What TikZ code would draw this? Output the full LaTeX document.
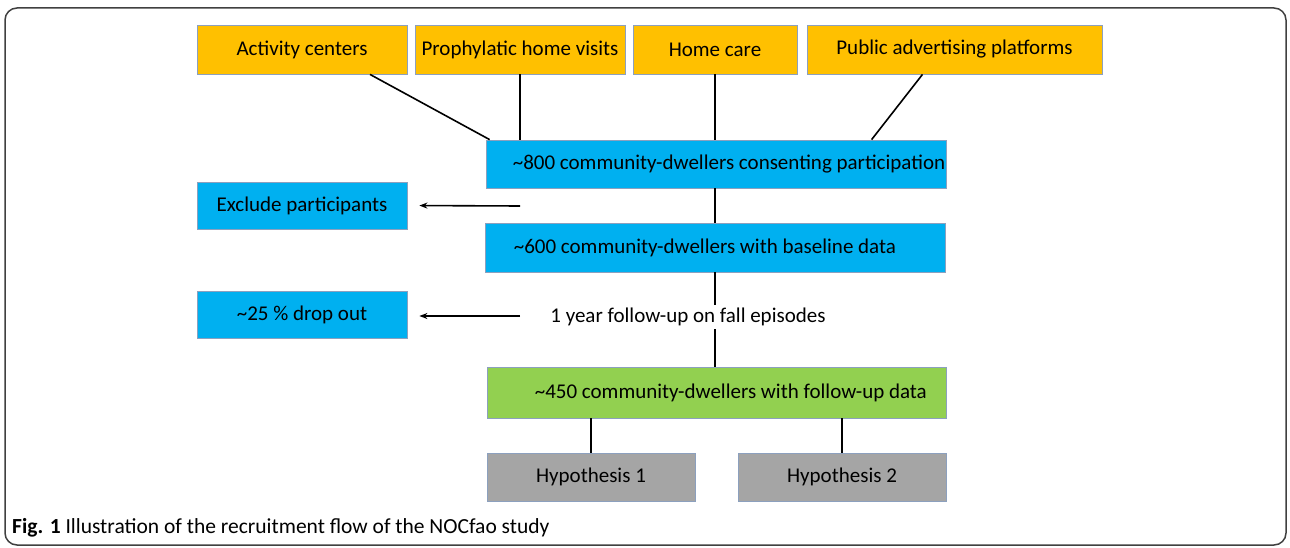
\documentclass[tikz,border=0pt]{standalone}
\usepackage{fontspec}
\setmainfont{Carlito}
\usetikzlibrary{arrows.meta}
\definecolor{yel}{RGB}{255,192,0}
\definecolor{blu}{RGB}{0,176,240}
\definecolor{grn}{RGB}{146,208,80}
\definecolor{gry}{RGB}{165,165,165}
\definecolor{edge}{RGB}{140,160,190}
\begin{document}
\begin{tikzpicture}[x=1pt,y=-1pt,
  box/.style={draw=edge,line width=0.8pt,inner sep=0pt,font=\fontsize{21}{24}\selectfont},
  yb/.style={box,fill=yel,minimum height=49pt},
  bb/.style={box,fill=blu},
  gb/.style={box,fill=grn},
  hb/.style={box,fill=gry,minimum width=208pt,minimum height=48pt},
  txt/.style={inner sep=0pt,font=\fontsize{21}{24}\selectfont},
  conn/.style={line width=1.6pt,black},
  arr/.style={conn,-{Stealth[length=8pt,width=6pt]}}]
\useasboundingbox (0,0) rectangle (1290,548);
\draw[line width=1.5pt,black!75,rounded corners=12pt] (5,8) rectangle (1286,545);
% top sources
\node[yb,minimum width=210pt] (act) at (302,49.5) {Activity centers};
\node[yb,minimum width=210pt] (pro) at (520,49.5) {Prophylatic home visits};
\node[yb,minimum width=164pt] (hc) at (715,49.5) {Home care};
\node[yb,minimum width=295pt] (pub) at (954.5,49.5) {Public advertising platforms};
% main flow
\node[bb,minimum width=460pt,minimum height=48pt] (c800) at (716,164) {};
\node[txt,anchor=west] (t800) at ([xshift=27pt]c800.west) {\textasciitilde800 community-dwellers consenting participation};
\node[bb,minimum width=210pt,minimum height=47pt] (excl) at (302,205.5) {Exclude participants};
\node[bb,minimum width=460pt,minimum height=49pt] (c600) at (715,247.5) {};
\node[txt,anchor=west] (t600) at ([xshift=29pt]c600.west) {\textasciitilde600 community-dwellers with baseline data};
\node[txt,fill=white,inner ysep=3pt] (fu) at (688,317) {1 year follow-up on fall episodes};
\node[bb,minimum width=210pt,minimum height=47pt] (drop) at (302,314.5) {\textasciitilde25 \% drop out};
\node[gb,minimum width=459pt,minimum height=51pt] (c450) at (716.5,392.5) {};
\node[txt,anchor=west] (t450) at ([xshift=48pt]c450.west) {\textasciitilde450 community-dwellers with follow-up data};
\node[hb] (h1) at (591,477) {Hypothesis 1};
\node[hb] (h2) at (842,477) {Hypothesis 2};
% free ends
\coordinate (e1) at (520,206);
\coordinate (e2) at (520,316);
% connectors
\draw[conn] ([xshift=68pt]act.south) -- ([xshift=4pt]c800.north west);
\draw[conn] (pro.south) -- (pro.south |- c800.north);
\draw[conn] (hc.south) -- (hc.south |- c800.north);
\draw[conn] ([xshift=-32pt]pub.south) -- ([xshift=386pt]c800.north west);
\draw[conn] (c800.south -| c600.north) -- (c600.north);
\draw[arr,shorten >=12pt] (e1) -- (excl.east);
\draw[conn] (c600.south) -- (c600.south |- fu.north);
\draw[conn] (c600.south |- fu.south) -- (c600.south |- c450.north);
\draw[arr,shorten >=12pt] (e2) -- (drop.east |- e2);
\draw[conn] (h1.north |- c450.south) -- (h1.north);
\draw[conn] (h2.north |- c450.south) -- (h2.north);
% caption
\node[inner sep=0pt,anchor=base west,font=\fontsize{21.5}{24}\selectfont] (cap) at (12,533) {\textbf{Fig. 1} Illustration of the recruitment flow of the NOCfao study};
\end{tikzpicture}
\end{document}
